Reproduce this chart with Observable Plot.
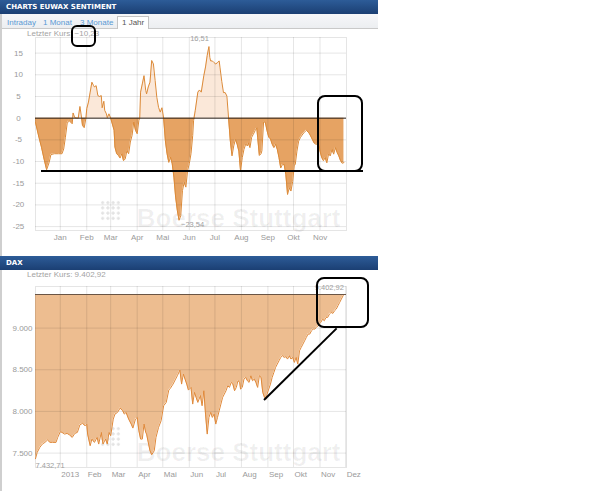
<!DOCTYPE html>
<html>
<head>
<meta charset="utf-8">
<script src="https://cdn.jsdelivr.net/npm/d3@7"></script>
<script src="https://cdn.jsdelivr.net/npm/@observablehq/plot@0.6"></script>
<style>
  html, body { margin: 0; padding: 0; background: #fff; }
  body { width: 605px; height: 491px; position: relative; overflow: hidden; font-family: "Liberation Sans", Arial, sans-serif; }
  .border { position: absolute; left: 0; top: 14px; width: 2px; height: 477px; background: #cfcfcf; }
  .hdr { position: absolute; left: 0; width: 378px; height: 14px; background: linear-gradient(#2d5c98, #1b3f73);
         color: #fff; font: bold 7px "DejaVu Sans", Verdana, sans-serif; line-height: 14px; box-sizing: border-box; padding-left: 6px; }
  .tabs { position: absolute; left: 2px; top: 14px; width: 376px; height: 15px; background: linear-gradient(#f6f7f9, #eceef1);
          border-bottom: 1px solid #c9c9c9; box-sizing: border-box; }
  .tab { position: absolute; top: 3px; font-size: 8px; color: #5a9ad4; line-height: 11px; }
  .tab.sel { top: 2px; height: 13px; border: 1px solid #c4c4c4; border-bottom: none; background: #fff; color: #555; padding: 0 4px; box-sizing: border-box; line-height: 12px; }
  .last { position: absolute; left: 27px; font-size: 8px; color: #a3a3a3; }
  .chart { position: absolute; left: 0; }
  .logo { position: absolute; width: 21px; height: 21px;
          background-image: radial-gradient(circle, #e3e3e3 1.3px, transparent 1.6px); background-size: 5.25px 5.25px; }
  .ann { position: absolute; box-sizing: border-box; border: 2px solid #000; border-radius: 8px; }
  .stroke { position: absolute; height: 2px; background: #000; transform-origin: 0 50%; }
</style>
</head>
<body>
<script>
// ---------- data ----------
const sentDates = [
"2012-12-03","2012-12-07","2012-12-10","2012-12-13","2012-12-16","2012-12-19","2012-12-21","2012-12-25","2012-12-30",
"2013-01-03","2013-01-05","2013-01-07","2013-01-09","2013-01-11","2013-01-13","2013-01-15","2013-01-16","2013-01-18","2013-01-22","2013-01-24","2013-01-26","2013-01-27","2013-01-29","2013-01-31",
"2013-02-01","2013-02-03","2013-02-05","2013-02-07","2013-02-09","2013-02-10","2013-02-12","2013-02-14","2013-02-16","2013-02-18","2013-02-19","2013-02-21","2013-02-22","2013-02-24","2013-02-25","2013-02-27",
"2013-03-01","2013-03-05","2013-03-06","2013-03-08","2013-03-10","2013-03-12","2013-03-14","2013-03-16","2013-03-18","2013-03-20","2013-03-22","2013-03-24","2013-03-26","2013-03-28","2013-03-30",
"2013-04-01","2013-04-03","2013-04-04","2013-04-05","2013-04-07","2013-04-09","2013-04-11","2013-04-12","2013-04-14","2013-04-16","2013-04-18","2013-04-20","2013-04-22","2013-04-24","2013-04-26","2013-04-28","2013-04-30",
"2013-05-02","2013-05-04","2013-05-06","2013-05-08","2013-05-10","2013-05-12","2013-05-14","2013-05-16","2013-05-18","2013-05-20","2013-05-22","2013-05-24","2013-05-26","2013-05-28","2013-05-30",
"2013-06-01","2013-06-03","2013-06-05","2013-06-06","2013-06-08","2013-06-11","2013-06-13","2013-06-15","2013-06-18","2013-06-20","2013-06-22","2013-06-24","2013-06-25","2013-06-26","2013-06-28","2013-06-30",
"2013-07-02","2013-07-04","2013-07-06","2013-07-07","2013-07-09","2013-07-11","2013-07-13","2013-07-15","2013-07-17","2013-07-19","2013-07-21","2013-07-23","2013-07-25","2013-07-27","2013-07-29","2013-07-31",
"2013-08-02","2013-08-04","2013-08-06","2013-08-08","2013-08-09","2013-08-11","2013-08-13","2013-08-15","2013-08-17","2013-08-19","2013-08-20","2013-08-22","2013-08-24","2013-08-25","2013-08-27","2013-08-29","2013-08-31",
"2013-09-02","2013-09-04","2013-09-06","2013-09-08","2013-09-10","2013-09-12","2013-09-14","2013-09-16","2013-09-18","2013-09-20","2013-09-22","2013-09-24","2013-09-26","2013-09-28","2013-09-30",
"2013-10-02","2013-10-03","2013-10-05","2013-10-07","2013-10-09","2013-10-11","2013-10-13","2013-10-16","2013-10-19","2013-10-21","2013-10-23","2013-10-25","2013-10-27","2013-10-29","2013-10-31",
"2013-11-01","2013-11-03","2013-11-05","2013-11-07","2013-11-09","2013-11-11","2013-11-13","2013-11-15","2013-11-17","2013-11-19","2013-11-21","2013-11-23","2013-11-25","2013-11-27","2013-11-29"];
const sentValues = [
-1,-4.4,-6.7,-9.4,-11.9,-10.2,-8.4,-8.2,-8.2,
-8.2,-7.1,-4.4,-1.3,-0.5,-0.9,-1.3,1.2,0.1,0,2.7,0,-1.7,-2.2,0,
2.2,3.7,6,8.3,7.5,7.2,7.5,5.2,5,5.2,2.4,3.9,1.8,1,0.1,1,
0,-2.8,-6.7,-8.2,-8.6,-9.2,-8.2,-9.8,-9.4,-7.5,-8.2,-5.5,-4,-0.9,-2.8,
-3.6,-0.5,0,6,7.9,9.8,6.4,5.6,7.2,8.3,13.3,12.5,8.7,4.8,2.5,1.4,2.4,
0,-5.2,-8.2,-10.2,-9,-10.5,-13.6,-18.2,-21.3,-23.54,-22.5,-16.7,-14.8,-15.9,-12.1,
-10.5,-8.2,-4,-0.6,1.8,6,6.5,6,9.8,11.8,14.5,16.51,14,13.2,13.2,12.8,
12.5,12.8,13.2,11.6,8.5,5.9,5.9,5.1,0,-5.2,-8.7,-6.4,-4.9,-6,-7.6,-12.2,
-9.1,-7.2,-6,-6.4,-5.7,-6.8,-4.4,-3.7,-2.9,-2.2,-4.4,-8.6,-8.2,-7.5,-0.8,-1,-2.9,
-4.4,-4.8,-6,-6.8,-6,-7.2,-9.1,-11.5,-10.7,-10.7,-13,-17.6,-16.1,-16.8,-14.6,
-10.7,-10.7,-7.6,-5.3,-4.5,-3.9,-3.4,-2.8,-3.4,-4.1,-4.9,-5.7,-6,-6,-6.4,
-7.6,-9.1,-9.8,-9.1,-10.3,-8.3,-8.7,-7.2,-8.3,-6.8,-7.9,-8.7,-9.8,-10.4,-10.23];

const daxDates = [
"2012-12-03","2012-12-05","2012-12-08","2012-12-11","2012-12-14","2012-12-17","2012-12-20","2012-12-23","2012-12-27","2012-12-29",
"2013-01-01","2013-01-03","2013-01-06","2013-01-09","2013-01-12","2013-01-15","2013-01-18","2013-01-21","2013-01-24","2013-01-27","2013-01-30",
"2013-02-01","2013-02-02","2013-02-05","2013-02-07","2013-02-10","2013-02-13","2013-02-15","2013-02-18","2013-02-20","2013-02-23","2013-02-25","2013-02-27",
"2013-03-01","2013-03-04","2013-03-06","2013-03-09","2013-03-12","2013-03-15","2013-03-17","2013-03-19","2013-03-22","2013-03-25","2013-03-27","2013-03-30",
"2013-04-01","2013-04-03","2013-04-05","2013-04-07","2013-04-09","2013-04-11","2013-04-12","2013-04-16","2013-04-18","2013-04-21","2013-04-23","2013-04-26","2013-04-29",
"2013-05-02","2013-05-05","2013-05-08","2013-05-10","2013-05-13","2013-05-16","2013-05-18","2013-05-21","2013-05-23","2013-05-25","2013-05-27","2013-05-29","2013-05-31",
"2013-06-03","2013-06-05","2013-06-07","2013-06-09","2013-06-11","2013-06-14","2013-06-16","2013-06-18","2013-06-20","2013-06-22","2013-06-24","2013-06-26","2013-06-28","2013-06-30",
"2013-07-02","2013-07-04","2013-07-06","2013-07-08","2013-07-10","2013-07-12","2013-07-14","2013-07-16","2013-07-18","2013-07-20","2013-07-22","2013-07-24","2013-07-26","2013-07-28","2013-07-30","2013-07-31",
"2013-08-02","2013-08-04","2013-08-06","2013-08-08","2013-08-10","2013-08-12","2013-08-14","2013-08-16","2013-08-18","2013-08-20","2013-08-22","2013-08-24","2013-08-26","2013-08-28","2013-08-30","2013-08-31",
"2013-09-02","2013-09-04","2013-09-06","2013-09-08","2013-09-10","2013-09-12","2013-09-14","2013-09-16","2013-09-18","2013-09-20","2013-09-22","2013-09-24","2013-09-26","2013-09-28","2013-09-30",
"2013-10-02","2013-10-04","2013-10-06","2013-10-08","2013-10-10","2013-10-12","2013-10-14","2013-10-16","2013-10-18","2013-10-20","2013-10-22","2013-10-24","2013-10-26","2013-10-28","2013-10-30","2013-10-31",
"2013-11-02","2013-11-04","2013-11-06","2013-11-08","2013-11-10","2013-11-12","2013-11-14","2013-11-16","2013-11-18","2013-11-20","2013-11-22","2013-11-24","2013-11-26","2013-11-28","2013-11-29"];
const daxValues = [
7432.71,7508,7568,7608,7628,7656,7628,7628,7628,7688,
7756,7748,7728,7736,7716,7688,7736,7748,7840,7856,7828,
7848,7728,7588,7668,7628,7688,7608,7748,7608,7668,7608,7748,
7708,7908,7968,7988,8040,8008,7968,7988,7908,7848,7800,7908,
7928,7768,7668,7668,7848,7748,7728,7528,7480,7528,7688,7808,7888,
8068,8108,8256,8280,8328,8388,8428,8496,8328,8448,8388,8328,8256,
8288,8088,8228,8168,8108,8190,8068,8248,7968,7728,7928,7988,7928,7968,
7848,7928,8008,8088,8168,8208,8248,8308,8288,8348,8328,8248,8288,8368,8348,8268,
8288,8388,8408,8368,8348,8428,8368,8388,8348,8288,8428,8408,8228,8168,8148,8208,
8268,8328,8408,8468,8528,8568,8608,8648,8668,8648,8656,8628,8668,8628,8648,
8588,8648,8568,8728,8768,8808,8848,8888,8928,8928,8968,8988,8988,9016,9028,9048,
9068,9108,9088,9128,9128,9168,9188,9176,9208,9228,9268,9308,9348,9388,9402.92];

const topMonthTicks = ["2013-01-01","2013-02-01","2013-03-01","2013-04-01","2013-05-01","2013-06-01","2013-07-01","2013-08-01","2013-09-01","2013-10-01","2013-11-01"];
const topMonthLabels = ["Jan","Feb","Mar","Apr","Mai","Jun","Jul","Aug","Sep","Okt","Nov"];
const botMonthTicks = ["2013-01-01","2013-02-01","2013-03-01","2013-04-01","2013-05-01","2013-06-01","2013-07-01","2013-08-01","2013-09-01","2013-10-01","2013-11-01","2013-12-01"];
const botMonthLabels = ["2013","Feb","Mar","Apr","Mai","Jun","Jul","Aug","Sep","Okt","Nov","Dez"];
const sentYTicks = [-25,-20,-15,-10,-5,0,5,10,15];
const daxYTicks = [7500,8000,8500,9000];
const sentTitle = "CHARTS EUWAX SENTIMENT";
const daxTitle = "DAX";
const tabLabels = ["Intraday","1 Monat","3 Monate","1 Jahr"];
const watermark = "Boerse Stuttgart";
</script>

<div class="border"></div>
<div class="hdr" id="h1" style="top:0"></div>
<div class="tabs" id="tabs"></div>
<div class="last" id="l1" style="top:29px"></div>
<div class="logo" style="left:100px; top:200px"></div>
<div class="chart" id="c1" style="top:30px"></div>
<div class="hdr" id="h2" style="top:256px"></div>
<div class="last" id="l2" style="top:270px"></div>
<div class="logo" style="left:100px; top:426px"></div>
<div class="chart" id="c2" style="top:280px"></div>

<!-- hand-drawn annotations -->
<div class="ann" style="left:71px; top:25px; width:25px; height:22px; border-radius:6px"></div>
<div class="stroke" style="left:41px; top:170px; width:322px"></div>
<div class="ann" style="left:317px; top:95px; width:46px; height:77px"></div>
<div class="ann" style="left:316px; top:277px; width:53px; height:51px"></div>
<div class="stroke" style="left:264px; top:399px; width:102px; transform: rotate(-44.6deg)"></div>

<script>
(function () {
const de = d3.formatLocale({decimal: ",", thousands: ".", grouping: [3], currency: ["", "€"]});
const fmt2 = de.format(",.2f");
const fmtInt = de.format(",d");
const parse = s => new Date(s + "T00:00:00Z");

const sent = sentDates.map((d, i) => ({date: parse(d), v: sentValues[i]}));
const dax = daxDates.map((d, i) => ({date: parse(d), v: daxValues[i]}));
const topTicks = topMonthTicks.map(parse);
const botTicks = botMonthTicks.map(parse);
const topLab = new Map(topTicks.map((d, i) => [+d, topMonthLabels[i]]));
const botLab = new Map(botTicks.map((d, i) => [+d, botMonthLabels[i]]));

document.getElementById("h1").textContent = sentTitle;
document.getElementById("h2").textContent = daxTitle;
const tabPos = [7, 43, 80, 117];
const tabs = document.getElementById("tabs");
tabLabels.forEach((t, i) => {
  const s = document.createElement("div");
  s.className = "tab" + (i === 3 ? " sel" : "");
  s.style.left = (tabPos[i] - 2) + "px";
  s.textContent = t;
  tabs.appendChild(s);
});
const lastSent = sent[sent.length - 1], lastDax = dax[dax.length - 1];
document.getElementById("l1").textContent = "Letzter Kurs: " + fmt2(lastSent.v);
document.getElementById("l2").textContent = "Letzter Kurs: " + fmt2(lastDax.v);

const xDomain = [parse("2012-12-03"), parse("2013-12-02")];
const baseStyle = {fontFamily: "'Liberation Sans', Arial, sans-serif", fontSize: "8px", color: "#9a9a9a", background: "transparent", overflow: "visible"};
const gridOpts = {stroke: "#000", strokeOpacity: 0.1, strokeWidth: 1};

const sMax = d3.greatest(sent, d => d.v);
const sMin = d3.least(sent, d => d.v);

const chartTop = Plot.plot({
  width: 378, height: 225,
  marginLeft: 35, marginRight: 32, marginTop: 7, marginBottom: 25,
  style: baseStyle,
  x: {type: "utc", domain: xDomain, label: null},
  y: {domain: [-25.9, 18.6], label: null},
  marks: [
    Plot.text([watermark], {frameAnchor: "bottom-right", textAnchor: "end", lineAnchor: "bottom", dx: -6, dy: -4,
      fontSize: 26, fontWeight: "bold", fill: "#000", fillOpacity: 0.06}),
    Plot.areaY(sent, {x: "date", y1: 0, y2: d => Math.min(d.v, 0), fill: "#e6a363"}),
    Plot.areaY(sent, {x: "date", y1: 0, y2: d => Math.max(d.v, 0), fill: "#fbe8d9"}),
    Plot.gridY(sentYTicks, gridOpts),
    Plot.gridX(topTicks, gridOpts),
    Plot.frame(gridOpts),
    Plot.lineY(sent, {x: "date", y: "v", stroke: "#dc8a38", strokeWidth: 1}),
    Plot.ruleY([0], {stroke: "#2e2219", strokeWidth: 1}),
    Plot.text([sMax], {x: "date", y: "v", text: d => fmt2(d.v), textAnchor: "end", dx: 0, dy: -8, fill: "#a0a0a0", fontSize: 7.5}),
    Plot.text([sMin], {x: "date", y: "v", text: d => fmt2(d.v), textAnchor: "start", dx: 2, dy: 4, fill: "#a0a0a0", fontSize: 7.5}),
    Plot.axisX(topTicks, {tickSize: 0, tickPadding: 4, label: null, tickFormat: d => topLab.get(+d), fill: "#9a9a9a"}),
    Plot.axisY(sentYTicks, {tickSize: 0, tickPadding: 17, textAnchor: "middle", label: null, tickFormat: d => String(d), fill: "#9a9a9a"})
  ]
});
document.getElementById("c1").appendChild(chartTop);

const chartBottom = Plot.plot({
  width: 378, height: 210,
  marginLeft: 35, marginRight: 32, marginTop: 6, marginBottom: 23,
  style: baseStyle,
  x: {type: "utc", domain: xDomain, label: null},
  y: {domain: [7327, 9499], label: null},
  marks: [
    Plot.text([watermark], {frameAnchor: "bottom-right", textAnchor: "end", lineAnchor: "bottom", dx: -6, dy: -7,
      fontSize: 26, fontWeight: "bold", fill: "#000", fillOpacity: 0.06}),
    Plot.areaY(dax, {x: "date", y1: "v", y2: lastDax.v, fill: "#edbd90"}),
    Plot.gridY(daxYTicks, gridOpts),
    Plot.gridX(botTicks, gridOpts),
    Plot.frame(gridOpts),
    Plot.lineY(dax, {x: "date", y: "v", stroke: "#e0893a", strokeWidth: 1}),
    Plot.ruleY([lastDax.v], {stroke: "#6a5545", strokeWidth: 1.2}),
    Plot.text([dax[0]], {x: "date", y: "v", text: d => fmt2(d.v), textAnchor: "start", dx: 0, dy: 4, fill: "#a0a0a0", fontSize: 7.5, lineAnchor: "top"}),
    Plot.text([lastDax], {x: "date", y: "v", text: d => fmt2(d.v), textAnchor: "end", dx: 0, dy: -7, fill: "#a0a0a0", fontSize: 7.5}),
    Plot.axisX(botTicks, {tickSize: 0, tickPadding: 4, label: null, textAnchor: "start", dx: 1, tickFormat: d => botLab.get(+d), fill: "#9a9a9a"}),
    Plot.axisY(daxYTicks, {tickSize: 0, tickPadding: 3, label: null, tickFormat: d => fmtInt(d), fill: "#9a9a9a"})
  ]
});
document.getElementById("c2").appendChild(chartBottom);
})();
</script>
</body>
</html>
